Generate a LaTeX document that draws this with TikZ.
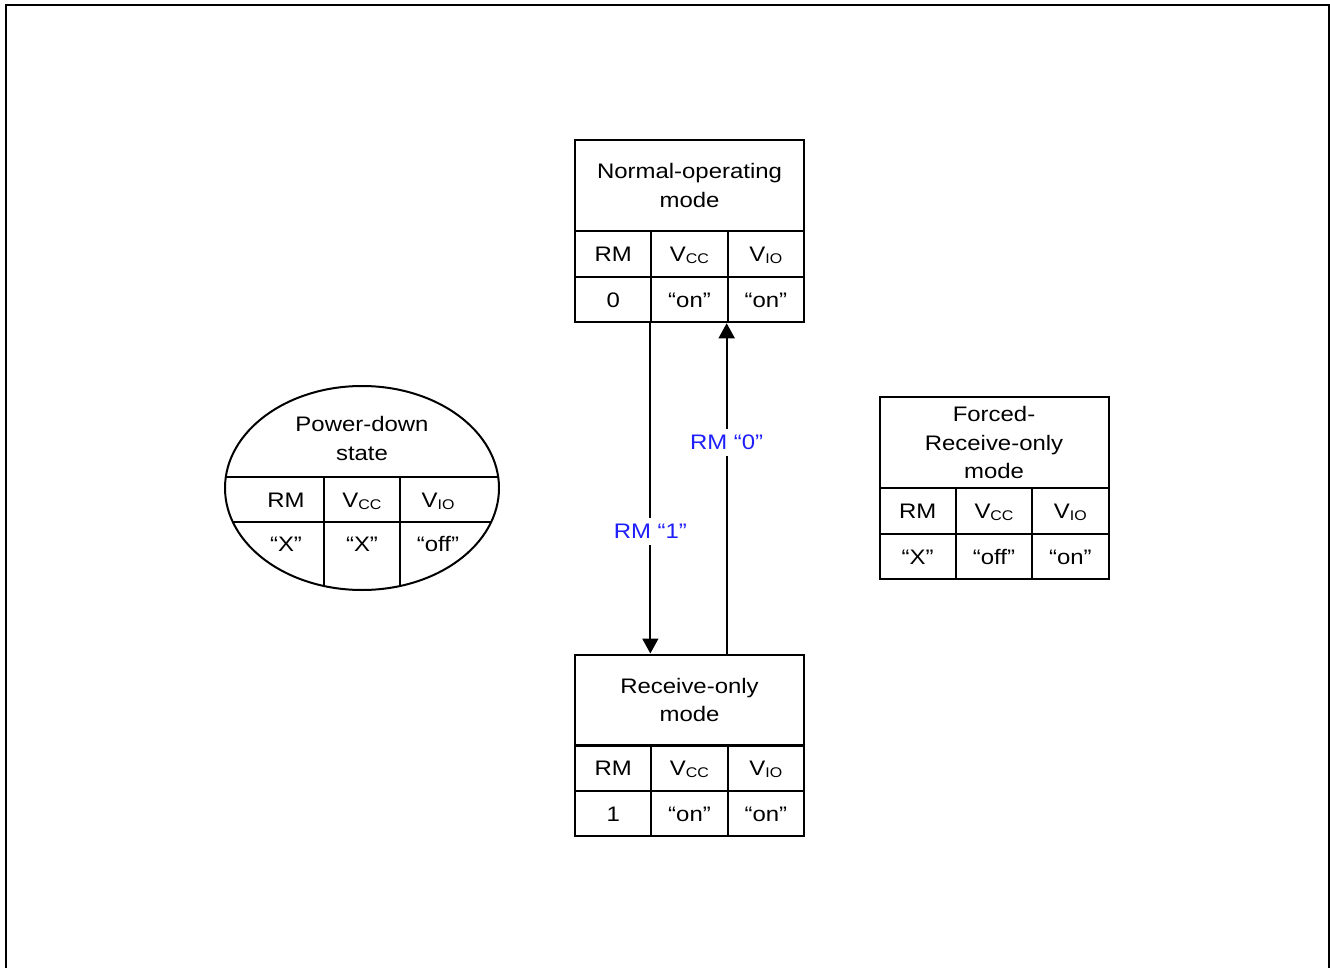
\documentclass[tikz,border=0pt]{standalone}
\usepackage{fontspec}
\setmainfont{Liberation Sans}[FakeStretch=1.14]
\usetikzlibrary{arrows.meta,shapes.geometric}
\definecolor{lblue}{RGB}{30,30,250}
\newcommand{\mysubs}[1]{\raisebox{-2pt}{\fontsize{14}{14}\selectfont #1}}
\tikzset{
  fnt/.style={font=\fontsize{21}{28.5}\selectfont},
  ttl/.style={draw, line width=2pt, minimum width=229pt, minimum height=91pt, align=center, fnt, inner sep=0pt},
  cell/.style={draw, line width=2pt, minimum width=76.33pt, minimum height=45.5pt, fnt, inner sep=0pt, text height=15pt, text depth=0pt},
  txt/.style={fnt, inner sep=0pt, text height=15pt, text depth=0pt},
  lbl/.style={fnt, text=lblue, fill=white, inner xsep=1pt, inner ysep=6pt},
  conn/.style={line width=1.7pt, -{Triangle[width=16pt,length=15pt]}},
}
\begin{document}
\begin{tikzpicture}[x=1pt,y=-1pt]
\useasboundingbox (0,0) rectangle (1330,968);
% frame
\draw[line width=2pt] (5.5,990) -- (5.5,5.5) -- (1328.5,5.5) -- (1328.5,990);

% Normal-operating mode
\node[ttl] (nt) at (689.5,185.5) {Normal-operating\\mode};
\node[cell] (n1) at (613.17,254) {RM};
\node[cell] (n2) at (689.5,254) {V\mysubs{CC}};
\node[cell] (n3) at (765.83,254) {V\mysubs{IO}};
\node[cell] (n4) at (613.17,299.5) {0};
\node[cell] (n5) at (689.5,299.5) {“on”};
\node[cell] (n6) at (765.83,299.5) {“on”};

% Receive-only mode
\node[ttl] (rt) at (689.5,700) {Receive-only\\mode};
\node[cell] (r1) at (613.17,768) {RM};
\node[cell] (r2) at (689.5,768) {V\mysubs{CC}};
\node[cell] (r3) at (765.83,768) {V\mysubs{IO}};
\node[cell] (r4) at (613.17,813.5) {1};
\node[cell] (r5) at (689.5,813.5) {“on”};
\node[cell] (r6) at (765.83,813.5) {“on”};

% Forced-Receive-only mode
\node[ttl] (ft) at (994,442.5) {Forced-\\Receive-only\\mode};
\node[cell] (f1) at (917.67,511) {RM};
\node[cell] (f2) at (994,511) {V\mysubs{CC}};
\node[cell] (f3) at (1070.33,511) {V\mysubs{IO}};
\node[cell] (f4) at (917.67,556.5) {“X”};
\node[cell] (f5) at (994,556.5) {“off”};
\node[cell] (f6) at (1070.33,556.5) {“on”};

% Power-down state
\begin{scope}
  \clip (362,488) ellipse [x radius=137pt, y radius=102pt];
  \draw[line width=2pt] (200,477) -- (520,477);
  \draw[line width=2pt] (200,522) -- (520,522);
  \draw[line width=2pt] (324,477) -- (324,600);
  \draw[line width=2pt] (400,477) -- (400,600);
\end{scope}
\node[draw, ellipse, line width=2pt, minimum width=274pt, minimum height=204pt, inner sep=0pt] (pd) at (362,488) {};
\node[fnt, align=center, inner sep=0pt] (pdt) at (362,438.5) {Power-down\\state};
\node[txt] (p1) at (286,499.5) {RM};
\node[txt] (p2) at (362,499.5) {V\mysubs{CC}};
\node[txt] (p3) at (438,499.5) {V\mysubs{IO}};
\node[txt] (p4) at (286,544) {“X”};
\node[txt] (p5) at (362,544) {“X”};
\node[txt] (p6) at (438,544) {“off”};

% transitions
\draw[conn] (n5.south west) -- node[lbl, pos=0.63] {RM “1”} (n5.south west |- rt.north);
\draw[conn] (n6.south west |- rt.north) -- node[lbl, pos=0.64] {RM “0”} (n6.south west);
\end{tikzpicture}
\end{document}
